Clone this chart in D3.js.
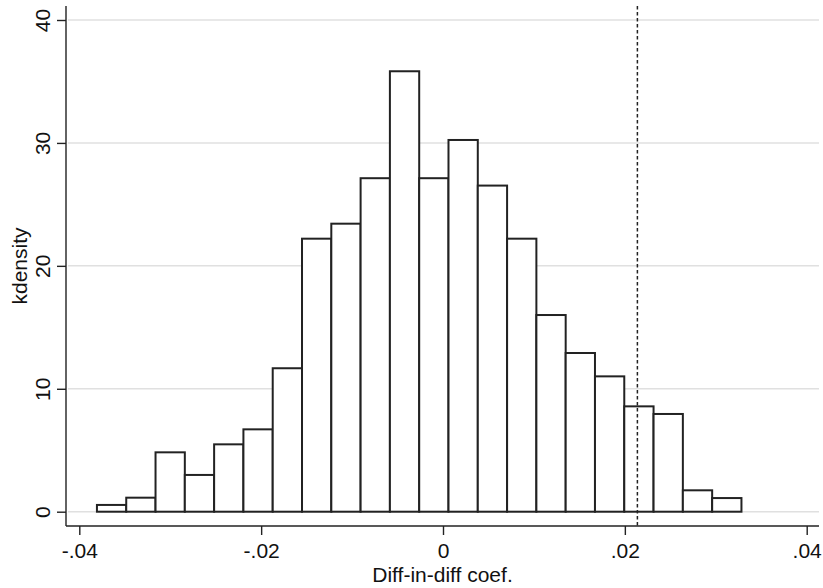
<!DOCTYPE html>
<html>
<head>
<meta charset="utf-8">
<script src="https://cdn.jsdelivr.net/npm/d3@7/dist/d3.min.js"></script>
<style>
  html, body { margin: 0; padding: 0; background: #fff; }
  svg { display: block; font-family: "Liberation Sans", Arial, Helvetica, sans-serif; }
</style>
</head>
<body>
<svg id="chart" width="823" height="588"></svg>
<script>
// Histogram of placebo diff-in-diff coefficients
const binStart = -0.03806;
const binWidth = 0.003222;
const densities = [0.55, 1.14, 4.83, 2.99, 5.48, 6.70, 11.67, 22.21, 23.43, 27.13, 35.83,
                   27.13, 30.24, 26.53, 22.21, 16.0, 12.91, 11.01, 8.57, 7.95, 1.74, 1.11];
const actualEstimate = 0.02138;
const xTicks = [-0.04, -0.02, 0, 0.02, 0.04];
const xTickLabels = ["-.04", "-.02", "0", ".02", ".04"];
const yTicks = [0, 10, 20, 30, 40];
const xTitle = "Diff-in-diff coef.";
const yTitle = "kdensity";

const bins = densities.map((d, i) => ({
  x0: binStart + i * binWidth,
  x1: binStart + (i + 1) * binWidth,
  value: d
}));

const svg = d3.select("#chart");
const plot = { left: 66, right: 819, top: 6, bottom: 526 };
const fontSize = 21;

const x = d3.scaleLinear().domain([-0.04, 0.04]).range([79.3, 806.7]);
const y = d3.scaleLinear().domain([0, 40]).range([511.7, 20]);

// horizontal grid lines
svg.append("g")
  .selectAll("line")
  .data(yTicks)
  .join("line")
  .attr("x1", plot.left + 2).attr("x2", plot.right)
  .attr("y1", d => y(d)).attr("y2", d => y(d))
  .attr("stroke", "#e0e0e0").attr("stroke-width", 1.5);

// bars
svg.append("g")
  .selectAll("rect")
  .data(bins)
  .join("rect")
  .attr("x", d => x(d.x0))
  .attr("y", d => y(d.value))
  .attr("width", d => x(d.x1) - x(d.x0))
  .attr("height", d => y(0) - y(d.value))
  .attr("fill", "#fff")
  .attr("stroke", "#222")
  .attr("stroke-width", 2);

// reference line at the actual estimate
svg.append("line")
  .attr("x1", x(actualEstimate)).attr("x2", x(actualEstimate))
  .attr("y1", plot.top).attr("y2", plot.bottom)
  .attr("stroke", "#222").attr("stroke-width", 1.5)
  .attr("stroke-dasharray", "3.5,2.5");

// y axis
const yAxis = svg.append("g")
  .attr("transform", `translate(${plot.left},0)`)
  .call(d3.axisLeft(y).tickValues(yTicks).tickSize(9).tickSizeOuter(0).tickFormat(d3.format("d")));
yAxis.select(".domain").attr("d", `M0,${plot.top}V${plot.bottom}`).attr("stroke", "#222").attr("stroke-width", 1.4);
yAxis.selectAll(".tick line").attr("stroke", "#222").attr("stroke-width", 1.4);
yAxis.selectAll(".tick text")
  .attr("font-size", fontSize).attr("fill", "#111")
  .attr("text-anchor", "middle")
  .attr("x", null).attr("y", null).attr("dy", null)
  .attr("transform", "translate(-16,0) rotate(-90)");

// x axis
const xAxis = svg.append("g")
  .attr("transform", `translate(0,${plot.bottom})`)
  .call(d3.axisBottom(x).tickValues(xTicks).tickSize(9).tickSizeOuter(0)
    .tickFormat((d, i) => xTickLabels[i]));
xAxis.select(".domain").attr("d", `M${plot.left},0H${plot.right}`).attr("stroke", "#222").attr("stroke-width", 1.4);
xAxis.selectAll(".tick line").attr("stroke", "#222").attr("stroke-width", 1.4);
xAxis.selectAll(".tick text")
  .attr("font-size", fontSize).attr("fill", "#111")
  .attr("dy", null).attr("y", 32);

// axis titles
svg.append("text")
  .attr("x", (plot.left + plot.right) / 2)
  .attr("y", 582)
  .attr("text-anchor", "middle")
  .attr("font-size", fontSize).attr("fill", "#111")
  .text(xTitle);

svg.append("text")
  .attr("transform", `translate(27,${(plot.top + plot.bottom) / 2}) rotate(-90)`)
  .attr("text-anchor", "middle")
  .attr("font-size", fontSize).attr("fill", "#111")
  .text(yTitle);
</script>
</body>
</html>
